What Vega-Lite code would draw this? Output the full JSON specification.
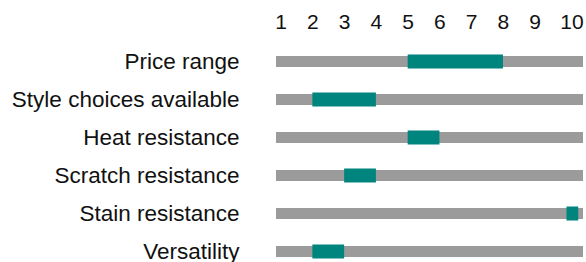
{
  "$schema": "https://vega.github.io/schema/vega-lite/v6.json",
  "autosize": {"type": "none"},
  "padding": {"top": 42, "left": 276, "right": 3, "bottom": 0},
  "width": 307,
  "height": 220,
  "background": "white",
  "config": {"view": {"stroke": null}, "font": "Liberation Sans",
             "axis": {"labelOverlap": false}},
  "data": {"values": [
    {"attribute": "Price range", "low": 5, "high": 8},
    {"attribute": "Style choices available", "low": 2, "high": 4},
    {"attribute": "Heat resistance", "low": 5, "high": 6},
    {"attribute": "Scratch resistance", "low": 3, "high": 4},
    {"attribute": "Stain resistance", "low": 10, "high": 10.37},
    {"attribute": "Versatility", "low": 2, "high": 3}
  ]},
  "encoding": {
    "y": {
      "field": "attribute", "type": "nominal", "sort": null,
      "scale": {"range": [0.5, 228.5], "paddingInner": 0, "paddingOuter": 0},
      "axis": {"title": null, "ticks": false, "tickSize": 0, "domain": false, "labelPadding": 37,
               "labelFontSize": 22.5, "labelColor": "#111111", "labelFont": "Liberation Sans",
               "labelLimit": 0}
    },
    "x": {"field": "low", "type": "quantitative",
          "scale": {"domain": [0.855, 10.52], "nice": false, "zero": false},
          "axis": {"orient": "top", "title": null, "values": [1,2,3,4,5,6,7,8,9,10],
                   "ticks": false, "tickSize": 0, "domain": false, "grid": false,
                   "labelFontSize": 21, "labelColor": "#111111", "labelPadding": 10,
                   "labelFont": "Liberation Sans", "labelOverlap": false, "labelBound": false,
                   "labelFlush": false,
                   "labelOffset": {"condition": {"test": "datum.value == 10", "value": 5}, "value": 0}}}
  },
  "layer": [
    {
      "mark": {"type": "bar", "color": "#9b9b9b", "size": 11},
      "encoding": {
        "x": {"datum": 0.855, "type": "quantitative"},
        "x2": {"datum": 10.52}
      }
    },
    {
      "mark": {"type": "bar", "color": "#00847e", "size": 14},
      "encoding": {
        "x2": {"field": "high"}
      }
    }
  ]
}
